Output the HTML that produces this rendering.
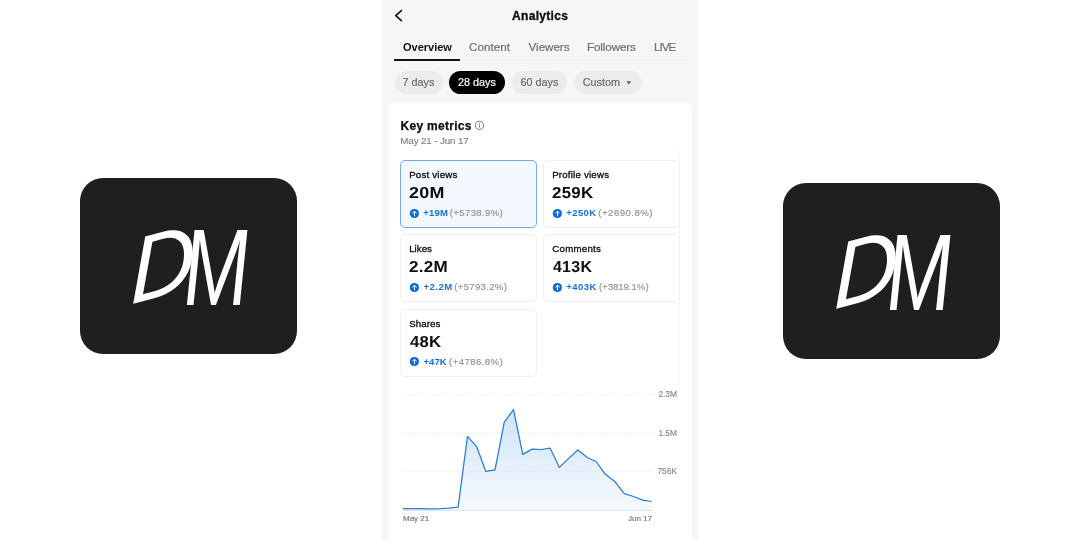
<!DOCTYPE html>
<html lang="en">
<head>
<meta charset="utf-8">
<title>Analytics</title>
<style>
*{box-sizing:border-box;margin:0;padding:0}
html,body{width:1080px;height:540px;overflow:hidden;background:#fff}
body{position:relative;font-family:"Liberation Sans",sans-serif;color:#111;-webkit-font-smoothing:antialiased}
.abs{position:absolute;white-space:nowrap;line-height:1}
.logo{position:absolute;width:217px;height:176px;background:#201e20;border-radius:23px;overflow:hidden}
.logo svg{position:absolute;left:0;top:0}
.panel{position:absolute;left:382px;top:0;width:316px;height:540px;background:#f7f5f8}
.sheet{position:absolute;left:388.4px;top:102.3px;width:303.2px;height:448px;background:#fff;border-radius:8px}
.tab{font-size:11.7px;color:#6f6f71;-webkit-text-stroke:.2px #6f6f71}
.tab.on{font-size:11px;font-weight:700;color:#101010;-webkit-text-stroke:0}
.pill{position:absolute;top:70.5px;height:23px;border-radius:12px;background:#ececee;color:#69696b;-webkit-text-stroke:.2px #69696b;font-size:10.8px;line-height:23px;text-align:center;white-space:nowrap}
.pill.on{background:#000;color:#fff;-webkit-text-stroke:.2px #fff}
.card{position:absolute;width:137px;height:68px;border:1px solid #f0eff2;border-radius:5px;background:#fff}
.card.sel{border-color:#74abe2;background:#f3f8fe}
.card .l{position:absolute;left:8.7px;top:8.4px;font-size:9.7px;line-height:12px;color:#0b0b0b;white-space:nowrap;-webkit-text-stroke:.3px #0b0b0b;letter-spacing:.12px}
.card .v{position:absolute;left:8.6px;top:23.1px;font-size:15.9px;line-height:18px;font-weight:700;color:#0e0e0e;white-space:nowrap;letter-spacing:.25px;transform:scaleX(1.085) rotate(.03deg);transform-origin:0 0}
.card .d{position:absolute;left:22.4px;top:45.6px;font-size:9.7px;line-height:12px;color:#919193;white-space:nowrap}
.card .db{color:#1a6fcb;font-weight:700;font-size:9.5px}
.card .dg{-webkit-text-stroke:.15px #919193}
.card svg{position:absolute;left:8px;top:47px}
.ax{font-size:8.4px;color:#858587;-webkit-text-stroke:.12px #858587}
</style>
</head>
<body>

<!-- left logo -->
<div class="logo" style="left:80.3px;top:178.3px;width:216.7px;height:175.4px">
<svg width="217" height="176" viewBox="0 0 217 176">
<g fill="#fff" font-family="Liberation Sans, sans-serif">
<text x="0" y="0" font-size="100" font-style="italic" transform="translate(50.5,126.5) skewY(-15) scale(.90,.93)">D</text>
<text x="0" y="0" font-size="100" font-style="italic" transform="translate(104.5,126.5) scale(.79,1.09) skewX(3)">M</text>
</g>
</svg>
</div>

<!-- right logo -->
<div class="logo" style="left:783.3px;top:183.3px;width:217px;height:175.6px">
<svg width="217" height="176" viewBox="0 0 217 176">
<g fill="#fff" font-family="Liberation Sans, sans-serif">
<text x="0" y="0" font-size="100" font-style="italic" transform="translate(50.5,126.5) skewY(-15) scale(.90,.93)">D</text>
<text x="0" y="0" font-size="100" font-style="italic" transform="translate(104.5,126.5) scale(.79,1.09) skewX(3)">M</text>
</g>
</svg>
</div>

<!-- phone panel -->
<div class="panel"></div>
<div class="sheet"></div>

<!-- header -->
<svg class="abs" style="left:392px;top:7px" width="14" height="18" viewBox="0 0 14 18"><path d="M9.4 3.6 L3.7 8.6 L9.4 13.6" fill="none" stroke="#111" stroke-width="1.6" stroke-linecap="round" stroke-linejoin="round"/></svg>
<div class="abs" style="left:512px;top:10.2px;font-size:12px;font-weight:700;color:#0c0c0c;letter-spacing:.32px;-webkit-text-stroke:.3px #0c0c0c">Analytics</div>

<!-- tabs -->
<div class="abs tab on" style="left:403px;top:41.7px">Overview</div>
<div class="abs tab" style="left:469px;top:41.1px">Content</div>
<div class="abs tab" style="left:528.6px;top:41.1px;letter-spacing:-.07px">Viewers</div>
<div class="abs tab" style="left:587px;top:41.1px;letter-spacing:-.14px">Followers</div>
<div class="abs tab" style="left:654px;top:41.1px;letter-spacing:-1.05px">LIVE</div>
<div class="abs" style="left:394px;top:60.4px;width:294px;height:1px;background:#f0eff2"></div>
<div class="abs" style="left:394px;top:59.2px;width:66.4px;height:2px;background:#141414"></div>

<!-- pills -->
<div class="pill" style="left:394.5px;width:48px">7 days</div>
<div class="pill on" style="left:448.8px;width:56.4px">28 days</div>
<div class="pill" style="left:512px;width:54.8px">60 days</div>
<div class="pill" style="left:574px;width:67.6px;text-align:left;padding-left:8.8px">Custom</div>
<svg class="abs" style="left:626px;top:80.6px" width="6" height="4" viewBox="0 0 6 4"><path d="M0.3 0.2 H5.3 L2.8 3.4 Z" fill="#626264"/></svg>

<div id="vline" class="abs" style="left:679px;top:150px;width:1px;height:232px;background:#f4f3f6"></div>

<!-- key metrics -->
<div class="abs" style="left:400.6px;top:120px;font-size:12px;font-weight:700;color:#0c0c0c;letter-spacing:.28px;-webkit-text-stroke:.25px #0c0c0c">Key metrics</div>
<svg class="abs" style="left:474px;top:120px" width="11" height="11" viewBox="0 0 11 11"><circle cx="5.5" cy="5.3" r="4.05" fill="none" stroke="#707072" stroke-width=".95"/><rect x="5.05" y="4.6" width=".9" height="2.9" fill="#707072"/><rect x="5.05" y="2.9" width=".9" height="1" fill="#707072"/></svg>
<div class="abs" style="left:400.3px;top:136.4px;font-size:9.8px;color:#818183;-webkit-text-stroke:.15px #818183;letter-spacing:-.13px">May 21 - Jun 17</div>

<!-- cards -->
<div class="card sel" style="left:400px;top:160px">
  <div class="l" style="left:8.16px;letter-spacing:0.204px">Post views</div>
  <div class="v" style="left:8.17px;transform:scaleX(1.1256) rotate(.03deg)">20M</div>
  <svg width="11" height="11" viewBox="0 0 11 11"><circle cx="5.4" cy="5.5" r="4.6" fill="#0b66d4"/><path d="M5.5 7.9 V3.3 M3.5 5.2 L5.5 3.2 L7.5 5.2" fill="none" stroke="#fff" stroke-width="1" stroke-linecap="round" stroke-linejoin="round"/></svg>
  <div class="d db" style="left:22.32px;letter-spacing:0.153px">+19M</div>
  <div class="d dg" style="left:48.80px;letter-spacing:0.295px">(+5738.9%)</div>
</div>
<div class="card" style="left:543px;top:160px">
  <div class="l" style="left:8.13px;letter-spacing:0.208px">Profile views</div>
  <div class="v" style="left:8.35px;transform:scaleX(1.0613) rotate(.03deg)">259K</div>
  <svg width="11" height="11" viewBox="0 0 11 11"><circle cx="5.4" cy="5.5" r="4.6" fill="#0b66d4"/><path d="M5.5 7.9 V3.3 M3.5 5.2 L5.5 3.2 L7.5 5.2" fill="none" stroke="#fff" stroke-width="1" stroke-linecap="round" stroke-linejoin="round"/></svg>
  <div class="d db" style="left:22.31px;letter-spacing:0.402px">+250K</div>
  <div class="d dg" style="left:54.36px;letter-spacing:0.422px">(+2690.8%)</div>
</div>
<div class="card" style="left:400px;top:234px">
  <div class="l" style="left:8.16px;letter-spacing:0.029px">Likes</div>
  <div class="v" style="left:8.34px;transform:scaleX(1.0730) rotate(.03deg)">2.2M</div>
  <svg width="11" height="11" viewBox="0 0 11 11"><circle cx="5.4" cy="5.5" r="4.6" fill="#0b66d4"/><path d="M5.5 7.9 V3.3 M3.5 5.2 L5.5 3.2 L7.5 5.2" fill="none" stroke="#fff" stroke-width="1" stroke-linecap="round" stroke-linejoin="round"/></svg>
  <div class="d db" style="left:22.46px;letter-spacing:0.499px">+2.2M</div>
  <div class="d dg" style="left:53.24px;letter-spacing:0.254px">(+5793.2%)</div>
</div>
<div class="card" style="left:543px;top:234px">
  <div class="l" style="left:8.37px;letter-spacing:0.226px">Comments</div>
  <div class="v" style="left:8.66px;transform:scaleX(1.0045) rotate(.03deg)">413K</div>
  <svg width="11" height="11" viewBox="0 0 11 11"><circle cx="5.4" cy="5.5" r="4.6" fill="#0b66d4"/><path d="M5.5 7.9 V3.3 M3.5 5.2 L5.5 3.2 L7.5 5.2" fill="none" stroke="#fff" stroke-width="1" stroke-linecap="round" stroke-linejoin="round"/></svg>
  <div class="d db" style="left:22.31px;letter-spacing:0.475px">+403K</div>
  <div class="d dg" style="left:54.94px;letter-spacing:-0.073px">(+3819.1%)</div>
</div>
<div class="card" style="left:400px;top:309px">
  <div class="l" style="left:8.32px;letter-spacing:0.055px">Shares</div>
  <div class="v" style="left:8.66px;transform:scaleX(1.0520) rotate(.03deg)">48K</div>
  <svg style="top:46px" width="11" height="11" viewBox="0 0 11 11"><circle cx="5.4" cy="5.5" r="4.6" fill="#0b66d4"/><path d="M5.5 7.9 V3.3 M3.5 5.2 L5.5 3.2 L7.5 5.2" fill="none" stroke="#fff" stroke-width="1" stroke-linecap="round" stroke-linejoin="round"/></svg>
  <div class="d db" style="left:22.46px;letter-spacing:0.092px">+47K</div>
  <div class="d dg" style="left:48.09px;letter-spacing:0.375px">(+4786.8%)</div>
</div>

<!-- chart -->
<svg class="abs" style="left:388px;top:380px" width="304" height="160" viewBox="388 380 304 160">
<defs><linearGradient id="g" x1="0" y1="0" x2="0" y2="1"><stop offset="0" stop-color="#cfe3f7"/><stop offset="1" stop-color="#f6fafe"/></linearGradient></defs>
<path d="M403,508.7 L412.2,508.7 L421.4,508.7 L430.6,508.9 L439.7,508.7 L448.9,508.2 L458.1,507.2 L467.5,436.4 L476.7,446.7 L485.7,471.3 L495,469.8 L504.3,422.2 L513.5,409.6 L522.8,454.4 L532,449.1 L541.2,449.5 L550.2,448.2 L559.4,467.4 L568.4,458.6 L577.8,450 L587.6,457.8 L596.1,461.5 L605.1,474.1 L615,481.7 L624.3,493.7 L633.5,496.5 L642.8,500.2 L651.7,501.5 L651.7,510 L403,510 Z" fill="url(#g)"/>
<g stroke="#e3e3e7" stroke-width="1" stroke-dasharray="1 1.4">
<line x1="403" y1="394.8" x2="655" y2="394.8"/><line x1="403" y1="433.3" x2="655" y2="433.3"/><line x1="403" y1="471.1" x2="655" y2="471.1"/>
</g>
<line x1="403" y1="510.3" x2="651.7" y2="510.3" stroke="#d5dbe2" stroke-width="1"/>
<path d="M403,508.7 L412.2,508.7 L421.4,508.7 L430.6,508.9 L439.7,508.7 L448.9,508.2 L458.1,507.2 L467.5,436.4 L476.7,446.7 L485.7,471.3 L495,469.8 L504.3,422.2 L513.5,409.6 L522.8,454.4 L532,449.1 L541.2,449.5 L550.2,448.2 L559.4,467.4 L568.4,458.6 L577.8,450 L587.6,457.8 L596.1,461.5 L605.1,474.1 L615,481.7 L624.3,493.7 L633.5,496.5 L642.8,500.2 L651.7,501.5" fill="none" stroke="#2b7bd0" stroke-width="1.25" stroke-linejoin="round"/>
</svg>
<div class="abs ax" style="left:627px;width:50px;text-align:right;top:390.4px">2.3M</div>
<div class="abs ax" style="left:627px;width:50px;text-align:right;top:428.8px">1.5M</div>
<div class="abs ax" style="left:627px;width:50px;text-align:right;top:466.8px">756K</div>
<div class="abs" style="left:403px;top:515.4px;font-size:8px;color:#767678;-webkit-text-stroke:.15px #767678">May 21</div>
<div class="abs" style="left:602px;width:50px;text-align:right;top:515.4px;font-size:8px;color:#767678;-webkit-text-stroke:.15px #767678">Jun 17</div>

</body>
</html>
